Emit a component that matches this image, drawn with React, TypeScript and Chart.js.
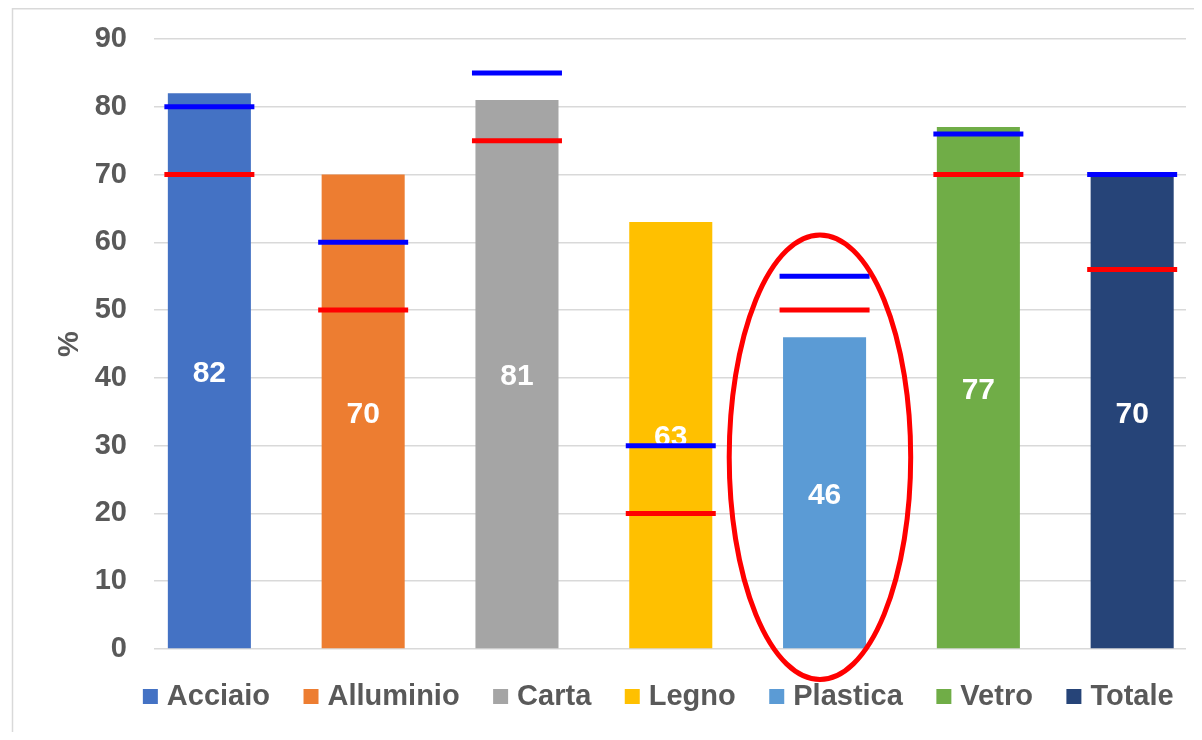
import { useEffect, useRef } from "react";
import { Chart, registerables } from "chart.js";

Chart.register(...registerables);

// Packaging materials and the recycling rate reached by each one (%)
const categories = ["Acciaio", "Alluminio", "Carta", "Legno", "Plastica", "Vetro", "Totale"];
const recyclingRate = [82, 70, 81, 63, 46, 77, 70];
// Reference levels shown as short horizontal markers over each bar
const upperTarget = [80, 60, 85, 30, 55, 76, 70];
const lowerTarget = [70, 50, 75, 20, 50, 70, 56];

const barColors = ["#4472C4", "#ED7D31", "#A5A5A5", "#FFC000", "#5B9BD5", "#70AD47", "#264478"];

const yMin = 0;
const yMax = 90;
const yStep = 10;
const yTitle = "%";

// Category circled in red
const highlightCategory = "Plastica";

const FONT = "'Liberation Sans', Arial, Helvetica, sans-serif";
const TEXT_COLOR = "#595959";
const GRID_COLOR = "#d9d9d9";

const barLabelPlugin = {
  id: "barLabels",
  afterDatasetDraw(chart: any, args: any) {
    const ds = chart.data.datasets[args.index];
    if (ds.type === "line") return;
    const ctx = chart.ctx;
    ctx.save();
    ctx.fillStyle = "#ffffff";
    ctx.font = `bold 30px ${FONT}`;
    ctx.textAlign = "center";
    ctx.textBaseline = "middle";
    args.meta.data.forEach((el: any, i: number) => {
      const raw = ds.data[i];
      if (!raw) return;
      ctx.fillText(String(raw.y), el.x, (el.y + el.base) / 2 + 3);
    });
    ctx.restore();
  },
};

const highlightPlugin = {
  id: "highlightEllipse",
  afterDatasetsDraw(chart: any) {
    const idx = categories.indexOf(highlightCategory);
    if (idx < 0) return;
    const { x, y } = chart.scales;
    // ellipse geometry in axis units
    const centerX = x.getPixelForValue(idx - 0.03);
    const centerY = y.getPixelForValue(28.3);
    const rx = Math.abs(x.getPixelForValue(idx + 0.59) - x.getPixelForValue(idx));
    const ry = Math.abs(y.getPixelForValue(28.3 + 32.8) - centerY);
    const ctx = chart.ctx;
    ctx.save();
    ctx.strokeStyle = "#FF0000";
    ctx.lineWidth = 5;
    ctx.beginPath();
    ctx.ellipse(centerX, centerY, rx, ry, 0, 0, Math.PI * 2);
    ctx.stroke();
    ctx.restore();
  },
};

const framePlugin = {
  id: "frame",
  beforeDraw(chart: any) {
    const ctx = chart.ctx;
    ctx.save();
    ctx.strokeStyle = GRID_COLOR;
    ctx.lineWidth = 1.5;
    ctx.beginPath();
    ctx.moveTo(4.5, chart.height);
    ctx.lineTo(4.5, 0.75);
    ctx.lineTo(chart.width, 0.75);
    ctx.stroke();
    ctx.restore();
  },
};

// Legend row centred slightly left of the plot centre
const legendPlacementPlugin = {
  id: "legendPlacement",
  afterLayout(chart: any) {
    const lg = chart.legend;
    if (!lg) return;
    lg.left = chart.chartArea.left - 58;
    lg.right = chart.chartArea.right + 40;
    lg.top -= 6;
    lg.bottom -= 6;
  },
};

export default function App() {
  const canvasRef = useRef<HTMLCanvasElement | null>(null);

  useEffect(() => {
    if (!canvasRef.current) return;

    const barSets = categories.map((name, i) => ({
      type: "bar" as const,
      label: name,
      data: [{ x: i, y: recyclingRate[i] }],
      backgroundColor: barColors[i],
      borderWidth: 0,
      grouped: false,
      barPercentage: 0.54,
      categoryPercentage: 1,
      order: 2,
    }));

    const markerSet = (label: string, values: number[], color: string) => ({
      type: "line" as const,
      label,
      data: values.map((v, i) => ({ x: i, y: v })),
      showLine: false,
      pointStyle: "line",
      pointRadius: 45,
      pointHoverRadius: 45,
      pointBorderWidth: 5,
      pointBorderColor: color,
      pointBackgroundColor: color,
      borderColor: color,
      borderWidth: 5,
      clip: false,
      order: 0,
    });

    const chart = new Chart(canvasRef.current, {
      type: "bar",
      data: {
        datasets: [
          ...barSets,
          markerSet("upper", upperTarget, "#0000FF"),
          markerSet("lower", lowerTarget, "#FF0000"),
        ] as any,
      },
      options: {
        animation: false,
        responsive: true,
        maintainAspectRatio: false,
        devicePixelRatio: 1,
        events: [],
        layout: { autoPadding: false, padding: { top: 31, right: 8, left: 0, bottom: 5 } },
        scales: {
          x: {
            type: "linear",
            min: -0.36,
            max: 6.35,
            offset: false,
            display: false,
            afterBuildTicks: (scale: any) => {
              scale.ticks = categories.map((_, i) => ({ value: i }));
            },
          },
          y: {
            min: yMin,
            max: yMax,
            border: { display: false },
            grid: { color: GRID_COLOR, lineWidth: 1.5, drawTicks: false },
            ticks: {
              stepSize: yStep,
              padding: 27,
              color: TEXT_COLOR,
              font: { family: FONT, size: 29, weight: "bold" },
            },
            title: {
              display: true,
              text: yTitle,
              color: TEXT_COLOR,
              font: { family: FONT, size: 29, weight: "bold" },
              padding: { top: 45, bottom: 0 },
            },
            afterFit: (scale: any) => {
              scale.width = 146;
              scale.paddingTop = 0;
              scale.paddingBottom = 0;
            },
          },
        },
        plugins: {
          tooltip: { enabled: false },
          legend: {
            position: "bottom",
            labels: {
              color: TEXT_COLOR,
              font: { family: FONT, size: 29, weight: "bold" },
              usePointStyle: true,
              pointStyle: "rect",
              boxWidth: 4,
              boxHeight: 15,
              padding: 39,
              filter: (item: any, data: any) => data.datasets[item.datasetIndex].type !== "line",
            },
          },
        },
      } as any,
      plugins: [framePlugin, barLabelPlugin, highlightPlugin, legendPlacementPlugin],
    });

    return () => chart.destroy();
  }, []);

  return (
    <div style={{ position: "relative", width: 1186, height: 724 }}>
      <canvas ref={canvasRef} style={{ display: "block" }} />
    </div>
  );
}
